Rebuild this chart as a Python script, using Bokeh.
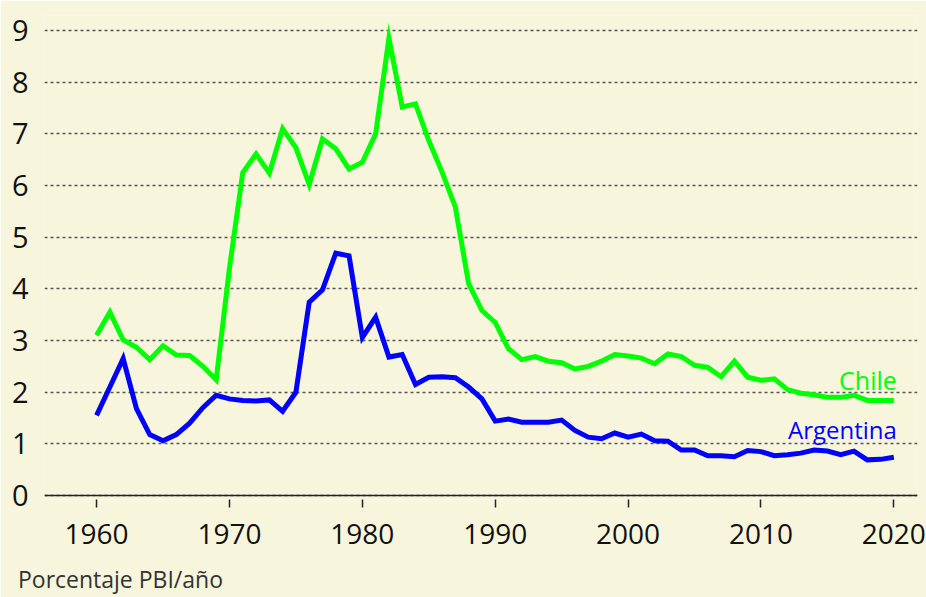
from bokeh.plotting import figure
from bokeh.models import Span, FixedTicker, Range1d, LinearAxis
from bokeh.embed import file_html
from bokeh.resources import INLINE
from bokeh.core.properties import value

# ---- data ----
years = list(range(1960, 2021))
chile = [3.10, 3.55, 3.01, 2.87, 2.63, 2.90, 2.72, 2.71, 2.50, 2.24,
         4.40, 6.25, 6.61, 6.24, 7.10, 6.73, 6.02, 6.90, 6.71, 6.32,
         6.45, 7.00, 8.85, 7.52, 7.58, 6.87, 6.26, 5.58, 4.10, 3.58,
         3.35, 2.84, 2.63, 2.69, 2.60, 2.57, 2.45, 2.50, 2.60, 2.73,
         2.70, 2.66, 2.55, 2.74, 2.69, 2.52, 2.48, 2.30, 2.60, 2.29,
         2.23, 2.26, 2.05, 1.98, 1.95, 1.90, 1.90, 1.94, 1.84, 1.84, 1.84]
argentina = [1.55, 2.10, 2.65, 1.68, 1.18, 1.06, 1.18, 1.40, 1.70, 1.94,
             1.87, 1.84, 1.83, 1.85, 1.63, 2.00, 3.74, 3.98, 4.69, 4.64,
             3.06, 3.45, 2.68, 2.73, 2.15, 2.29, 2.30, 2.28, 2.10, 1.87,
             1.44, 1.48, 1.42, 1.42, 1.42, 1.46, 1.26, 1.13, 1.10, 1.21,
             1.13, 1.19, 1.06, 1.05, 0.88, 0.88, 0.77, 0.77, 0.75, 0.87,
             0.85, 0.77, 0.79, 0.82, 0.88, 0.86, 0.79, 0.86, 0.69, 0.70, 0.74]
x_ticks = [1960, 1970, 1980, 1990, 2000, 2010, 2020]
y_ticks = [0, 1, 2, 3, 4, 5, 6, 7, 8, 9]
series_names = ["Chile", "Argentina"]
unit_label = "Porcentaje PBI/año"

BG = "#f7f6dd"
GREEN = "#00ff00"
BLUE = "#0000ff"
FONT = "Open Sans"

p = figure(width=926, height=597, output_backend="svg", toolbar_location=None,
           x_range=Range1d(1956.08, 2021.78), y_range=Range1d(-0.077, 9.29),
           min_border_left=44, min_border_right=9, min_border_top=15,
           min_border_bottom=98,
           background_fill_color=BG, border_fill_color=BG,
           outline_line_color=None)

# grid
p.xgrid.visible = False
p.ygrid.grid_line_color = "#555555"
p.ygrid.grid_line_dash = "3 3"
p.ygrid.grid_line_width = 1.5

# y axis
p.yaxis.ticker = FixedTicker(ticks=y_ticks)
p.yaxis.axis_line_color = None
p.yaxis.major_tick_line_color = None
p.yaxis.minor_tick_line_color = None
p.yaxis.major_label_standoff = 10
p.yaxis.major_label_text_font = FONT
p.yaxis.major_label_text_font_size = "29px"
p.yaxis.major_label_text_color = "#111111"

# x axis
p.xaxis.ticker = FixedTicker(ticks=x_ticks)
p.xaxis.axis_line_color = None
p.xaxis.major_tick_in = 0
p.xaxis.major_tick_out = 8
p.xaxis.major_tick_line_color = "#222222"
p.xaxis.major_tick_line_width = 1.5
p.xaxis.minor_tick_line_color = None
p.xaxis.major_label_standoff = 16
p.xaxis.major_label_text_font = FONT
p.xaxis.major_label_text_font_size = "28px"
p.xaxis.major_label_text_color = "#111111"

# unit note, drawn as a single label of an extra (pixel) axis below
p.extra_x_ranges = {"note": Range1d(44, 917)}
note_axis = LinearAxis(x_range_name="note", ticker=FixedTicker(ticks=[120]),
                       major_label_overrides={120: unit_label},
                       axis_line_color=None, major_tick_line_color=None,
                       minor_tick_line_color=None, major_label_standoff=10,
                       major_label_text_font=FONT,
                       major_label_text_font_size="23px",
                       major_label_text_color="#333333")
p.add_layout(note_axis, "below")

# baseline at zero
p.add_layout(Span(location=0, dimension="width", line_color="#222222",
                  line_width=1.5))

# lines
p.line(years, chile, line_color=GREEN, line_width=5, line_join="miter")
p.line(years, argentina, line_color=BLUE, line_width=5, line_join="miter")

# end labels
p.text(x=[years[-1]], y=[chile[-1]], text=[series_names[0]],
       text_align="right", text_baseline="alphabetic", x_offset=3, y_offset=-20,
       text_font=value(FONT), text_font_size="25px", text_color=GREEN)
p.text(x=[years[-1]], y=[argentina[-1]], text=[series_names[1]],
       text_align="right", text_baseline="alphabetic", x_offset=3, y_offset=-28,
       text_font=value(FONT), text_font_size="24px", text_color=BLUE)

open("out.html", "w").write(file_html(p, INLINE))
